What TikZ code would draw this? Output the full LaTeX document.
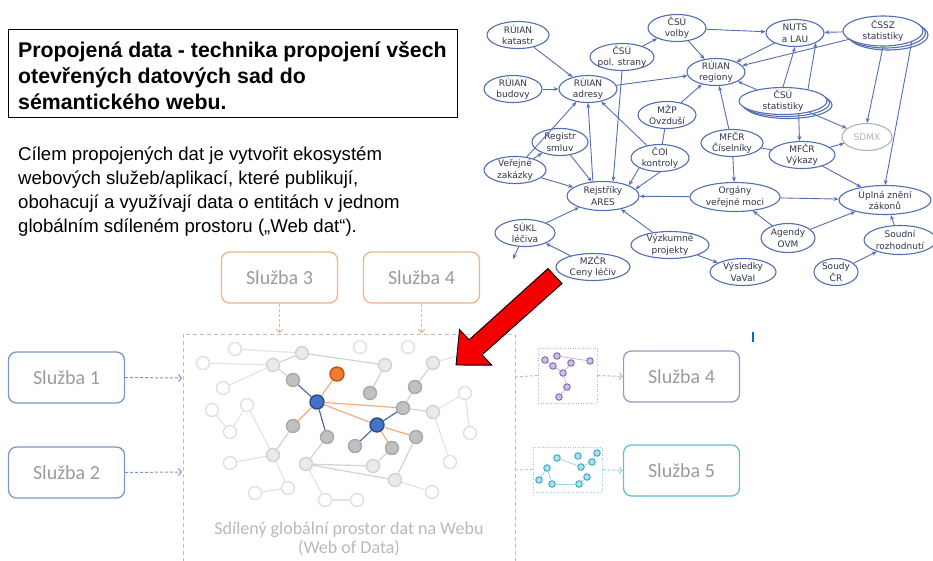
\documentclass[tikz,border=0pt]{standalone}
\usepackage{fontspec}
\setmainfont{Liberation Sans}
\newfontfamily\calib{Carlito}
\newfontfamily\gfont{DejaVu Sans}
\usetikzlibrary{shapes.geometric,arrows.meta,shadows}
\definecolor{gblue}{RGB}{84,110,178}
\definecolor{gtext}{RGB}{50,52,75}
\definecolor{sdmxc}{RGB}{178,178,184}
\definecolor{borange}{RGB}{244,177,131}
\definecolor{bblue}{RGB}{124,150,200}
\definecolor{bpurple}{RGB}{165,145,195}
\definecolor{bteal}{RGB}{95,192,208}
\definecolor{stxt}{RGB}{155,155,155}
\definecolor{captc}{RGB}{185,185,185}
\definecolor{rectc}{RGB}{190,190,190}
\definecolor{arrred}{RGB}{245,0,0}
\definecolor{fedge}{RGB}{228,228,228}
\definecolor{medge}{RGB}{210,210,210}
\definecolor{nfaint}{RGB}{224,224,224}
\definecolor{nlightf}{RGB}{234,234,234}
\definecolor{nlightd}{RGB}{210,210,210}
\definecolor{nmedf}{RGB}{192,192,192}
\definecolor{nmedd}{RGB}{168,168,168}
\definecolor{nbluef}{RGB}{68,114,196}
\definecolor{nblued}{RGB}{40,75,140}
\definecolor{norgf}{RGB}{237,125,49}
\definecolor{norgd}{RGB}{190,85,20}
\definecolor{eblue}{RGB}{80,105,160}
\definecolor{eorg}{RGB}{242,170,125}
\definecolor{ppf}{RGB}{205,188,228}
\definecolor{ppd}{RGB}{140,110,180}
\definecolor{tpf}{RGB}{170,225,238}
\definecolor{tpd}{RGB}{70,170,200}
\begin{document}
\begin{tikzpicture}[x=1pt,y=-1pt,
  gn/.style 2 args={ellipse, draw=gblue, line width=1.1pt, fill=white,
    minimum width=#1pt, minimum height=#2pt, inner xsep=-12pt, inner ysep=-6pt,
    font=\gfont\fontsize{9}{11.5}\selectfont, text=gtext, align=center},
  ge/.style={draw=gblue, line width=0.9pt, -{Stealth[length=5pt,width=4pt]}},
  gl/.style={draw=gblue, line width=0.9pt},
  sbox/.style={draw, rounded corners=8pt, line width=1.3pt, minimum width=116pt,
    minimum height=51pt, fill=white, font=\calib\fontsize{20}{24}\selectfont, text=stxt},
  darr/.style={dash pattern=on 3pt off 2pt, line width=1pt, -{Straight Barb[length=3pt,width=7pt]}},
  fn/.style={circle, minimum size=13pt, inner sep=0pt, line width=1.4pt, draw=nfaint, fill=white},
  ln/.style={circle, minimum size=13pt, inner sep=0pt, line width=1.4pt, draw=nlightd, fill=nlightf},
  mn/.style={circle, minimum size=13pt, inner sep=0pt, line width=1.4pt, draw=nmedd, fill=nmedf},
  bn/.style={circle, minimum size=14pt, inner sep=0pt, line width=1.4pt, draw=nblued, fill=nbluef},
  on/.style={circle, minimum size=14pt, inner sep=0pt, line width=1.4pt, draw=norgd, fill=norgf},
  fe/.style={draw=fedge, line width=1.2pt},
  me/.style={draw=medge, line width=1.2pt},
  be/.style={draw=eblue, line width=1.2pt},
  oe/.style={draw=eorg, line width=1.2pt},
  pn/.style={circle, minimum size=6.5pt, inner sep=0pt, line width=1pt, draw=ppd, fill=ppf},
  tn/.style={circle, minimum size=6.5pt, inner sep=0pt, line width=1pt, draw=tpd, fill=tpf},
  pe/.style={draw=ppd!50, line width=0.8pt},
  te/.style={draw=tpd!50, line width=0.8pt}
]
\useasboundingbox (0,0) rectangle (933,560);

% ---------- title box and paragraph ----------
\node[draw=black, line width=1.2pt, minimum width=449pt, minimum height=88pt, anchor=north west, inner sep=0pt] (tbox) at (8,29) {};
\begin{scope}[every node/.style={anchor=base west, inner sep=0pt, font=\bfseries\fontsize{21.3}{26}\selectfont}]
\node (t1) at (18,57) {Propojená data - technika propojení všech};
\node (t2) at (18,83) {otevřených datových sad do};
\node (t3) at (18,109) {sémantického webu.};
\end{scope}
\begin{scope}[every node/.style={anchor=base west, inner sep=0pt, font=\fontsize{18.6}{24}\selectfont}]
\node (p1) at (18,160) {Cílem propojených dat je vytvořit ekosystém};
\node (p2) at (18,184) {webových služeb/aplikací, které publikují,};
\node (p3) at (18,208) {obohacují a využívají data o entitách v jednom};
\node (p4) at (18,232) {globálním sdíleném prostoru („Web dat“).};
\end{scope}

% ---------- top-right graph ----------
\node[gn={62}{27}] (kat) at (518,35) {RÚIAN\\katastr};
\node[gn={58}{27}] (bud) at (513,89) {RÚIAN\\budovy};
\node[gn={58}{27}] (adr) at (588,89) {RÚIAN\\adresy};
\node[gn={64}{27}] (pol) at (622,57) {ČSÚ\\pol. strany};
\node[gn={58}{27}] (vol) at (677,28) {ČSÚ\\volby};
\node[gn={58}{27}] (nuts) at (795,33) {NUTS\\a LAU};
\node[gn={80}{30}, double copy shadow={shadow xshift=2.5pt,shadow yshift=-2pt}] (cssz) at (883,31) {ČSSZ\\statistiky};
\node[gn={58}{27}] (reg) at (716,72) {RÚIAN\\regiony};
\node[gn={88}{27}, double copy shadow={shadow xshift=2.5pt,shadow yshift=-2pt}] (csust) at (783,101) {ČSÚ\\statistiky};
\node[gn={58}{27}] (mzp) at (667,115) {MŽP\\Ovzduší};
\node[gn={58}{27}] (coi) at (660,158) {ČOI\\kontroly};
\node[gn={56}{27}] (rs) at (560,142) {Registr\\smluv};
\node[gn={62}{27}] (vz) at (515,170) {Veřejné\\zakázky};
\node[gn={72}{29}] (ares) at (603,196) {Rejstříky\\ARES};
\node[gn={60}{27}] (sukl) at (525,233) {SÚKL\\léčiva};
\node[gn={74}{27}] (mzcr) at (593,267) {MZČR\\Ceny léčiv};
\node[gn={78}{27}] (vyz) at (670,245) {Výzkumné\\projekty};
\node[gn={66}{27}] (vys) at (743,272) {Výsledky\\VaVaI};
\node[gn={62}{27}] (cis) at (732,143) {MFČR\\Číselníky};
\node[gn={66}{27}] (vyk) at (802,155) {MFČR\\Výkazy};
\node[gn={50}{27}, draw=sdmxc, text=sdmxc] (sdmx) at (867,137) {SDMX};
\node[gn={90}{29}] (org) at (735,197) {Orgány\\veřejné moci};
\node[gn={92}{29}] (upl) at (885,200) {Úplná znění\\zákonů};
\node[gn={54}{29}] (agd) at (788,238) {Agendy\\OVM};
\node[gn={72}{29}] (soudni) at (900,240) {Soudní\\rozhodnutí};
\node[gn={44}{27}] (soudy) at (836,272) {Soudy\\ČR};
\coordinate (suklend) at (513,259);

\draw[ge] (kat) -- (adr);
\draw[ge] (bud) -- (adr);
\draw[ge] (adr) -- (reg);
\draw[ge] (vz) -- (adr);
\draw[ge] (vz) -- (rs);
\draw[ge] (vz) -- (ares);
\draw[ge] (rs) -- (ares);
\draw[ge] (ares.125) -- (adr.south);
\draw[ge] (pol.south) -- (ares.55);
\draw[ge] (coi) -- (adr);
\draw[ge] (coi.south west) -- (ares.north east);
\draw[ge] (coi.south) -- (ares.12);
\draw[gl] (mzp) -- (coi);
\draw[ge] (mzp) -- (reg);
\draw[ge] (pol) -- (vol);
\draw[ge] (vol) -- (reg);
\draw[ge] (vol) -- (nuts);
\draw[ge] (nuts) -- (reg);
\draw[ge] (cssz) -- (nuts);
\draw[ge] (cssz) -- (reg);
\draw[ge] (csust.north) -- (nuts.south);
\draw[ge] (csust.25) -- (nuts.south east);
\draw[ge] (csust) -- (reg);
\draw[ge] (csust) -- (sdmx);
\draw[ge] (cssz.south) -- (sdmx.north);
\draw[ge] (cssz.south east) -- (upl.north);
\draw[ge] (csust.320) -- (vyk.100);
\draw[ge] (vyk) -- (sdmx);
\draw[ge] (vyk) -- (upl);
\draw[gl] (cis) -- (vyk);
\draw[ge] (cis) -- (reg);
\draw[ge] (cis) -- (org);
\draw[ge] (org) -- (ares);
\draw[ge] (org) -- (upl);
\draw[ge] (agd) -- (org);
\draw[ge] (agd) -- (upl);
\draw[ge] (soudni) -- (upl);
\draw[ge] (soudy) -- (soudni);
\draw[ge] (vyz) -- (ares);
\draw[ge] (vyz) -- (vys);
\draw[ge] (sukl) -- (ares);
\draw[ge] (mzcr) -- (sukl);
\draw[ge] (sukl) -- (suklend);

% small blue mark
\draw[draw={rgb,255:red,0;green,112;blue,192}, line width=1.2pt] (753,332) -- (753,342);

% ---------- bottom: shared data space ----------
\draw[draw=rectc, line width=1pt, dash pattern=on 4pt off 3pt] (183,562) -- (183,334) -- (515,334) -- (515,562);
\node[font=\calib\fontsize{18}{19}\selectfont, text=captc, anchor=base, inner sep=0pt] (cap1) at (349,534) {Sdílený globální prostor dat na Webu};
\node[font=\calib\fontsize{18}{19}\selectfont, text=captc, anchor=base, inner sep=0pt] (cap2) at (349,553) {(Web of Data)};

% services
\node[sbox, draw=borange] (s3) at (279.5,277.5) {Služba 3};
\node[sbox, draw=borange] (s4t) at (421.5,277.5) {Služba 4};
\node[sbox, draw=bblue] (s1) at (66.5,377.5) {Služba 1};
\node[sbox, draw=bblue] (s2) at (66.5,472.5) {Služba 2};
\node[sbox, draw=bpurple] (s4r) at (681.5,376.5) {Služba 4};
\node[sbox, draw=bteal] (s5) at (681.5,470.5) {Služba 5};

\coordinate (r3) at (279.5,333);
\coordinate (r4) at (421.5,333);
\coordinate (r1) at (182,378);
\coordinate (r2) at (182,472);
\coordinate (rr1) at (515,377);
\coordinate (rr2) at (515,470);

\node[draw=ppd!55, dash pattern=on 1pt off 1.5pt, line width=0.8pt, minimum width=59pt, minimum height=55pt, inner sep=0pt] (pbox) at (567.5,375.5) {};
\node[draw=tpd!55, dash pattern=on 1pt off 1.5pt, line width=0.8pt, minimum width=69pt, minimum height=45pt, inner sep=0pt] (tbx) at (567.5,469.5) {};

\draw[darr, draw=borange] (s3.south) -- (r3);
\draw[darr, draw=borange] (s4t.south) -- (r4);
\draw[darr, draw=bblue] (s1.east) -- (r1);
\draw[darr, draw=bblue] (s2.east) -- (r2);
\draw[dash pattern=on 3pt off 2pt, line width=1pt, draw=rectc] (rr1) -- (pbox.west);
\draw[dash pattern=on 3pt off 2pt, line width=1pt, draw=bteal!60] (rr2) -- (tbx.west);
\draw[darr, draw=bpurple!70] (pbox.east) -- (s4r.west);
\draw[darr, draw=bteal!70] (tbx.east) -- (s5.west);

% mini purple graph
\node[pn] (pa) at (545,360) {};
\node[pn] (pb) at (557,356) {};
\node[pn] (pc) at (553,366) {};
\node[pn] (pd) at (571,363) {};
\node[pn] (pp) at (590,361) {};
\node[pn] (pf) at (563,373) {};
\node[pn] (pg) at (567,387) {};
\node[pn] (ph) at (559,397) {};
\draw[pe] (pb) -- (pp);
\draw[pe] (pa) -- (pc);
\draw[pe] (pc) -- (pf);
\draw[pe] (pd) -- (pf);
\draw[pe] (pf) -- (pg);
\draw[pe] (pg) -- (ph);

% mini teal graph
\node[tn] (ta) at (557,458) {};
\node[tn] (tb) at (578,456) {};
\node[tn] (tc) at (597,453) {};
\node[tn] (td) at (592,462) {};
\node[tn] (tq) at (547,468) {};
\node[tn] (tf) at (581,467) {};
\node[tn] (tg) at (539,480) {};
\node[tn] (th) at (587,477) {};
\node[tn] (ti) at (552,484) {};
\node[tn] (tj) at (579,484) {};
\draw[te] (ta) -- (tf);
\draw[te] (tc) -- (td);
\draw[te] (td) -- (tf);
\draw[te] (tq) -- (tg);
\draw[te] (tq) -- (ti);
\draw[te] (ti) -- (tj);
\draw[te] (th) -- (tj);

% big web graph nodes
\node[fn] (f1) at (235,349) {};
\node[fn] (f2) at (203,363) {};
\node[fn] (f3) at (223,388) {};
\node[fn] (f4) at (212,410) {};
\node[fn] (f5) at (247,405) {};
\node[fn] (f6) at (230,432) {};
\node[fn] (f7) at (230,463) {};
\node[fn] (f8) at (255,493) {};
\node[fn] (f9) at (288,488) {};
\node[fn] (f10) at (325,500) {};
\node[fn] (f11) at (357,500) {};
\node[fn] (f12) at (360,347) {};
\node[fn] (f13) at (408,347) {};
\node[fn] (f14) at (432,492) {};
\node[fn] (f15) at (450,462) {};
\node[fn] (f16) at (470,433) {};
\node[fn] (f17) at (465,393) {};
\node[ln] (l1) at (273,365) {};
\node[ln] (l2) at (302,353) {};
\node[ln] (l3) at (385,365) {};
\node[ln] (l4) at (433,363) {};
\node[ln] (l5) at (433,412) {};
\node[ln] (l6) at (306,464) {};
\node[ln] (l7) at (373,466) {};
\node[ln] (l8) at (395,480) {};
\node[ln] (l9) at (273,455) {};
\node[mn] (m1) at (293,380) {};
\node[mn] (m2) at (370,393) {};
\node[mn] (m3) at (415,387) {};
\node[mn] (m4) at (403,408) {};
\node[mn] (m5) at (293,426) {};
\node[mn] (m6) at (327,437) {};
\node[mn] (m7) at (355,446) {};
\node[mn] (m8) at (392,448) {};
\node[mn] (m9) at (416,437) {};
\node[bn] (b1) at (317,402) {};
\node[bn] (b2) at (377,425) {};
\node[on] (o1) at (337,374) {};
\coordinate (lend) at (460,355);

% faint edges
\draw[fe] (f1) -- (l2);
\draw[fe] (f2) -- (l1);
\draw[fe] (f3) -- (l1);
\draw[fe] (f4) -- (f6);
\draw[fe] (f5) -- (f6);
\draw[fe] (f5) -- (l9);
\draw[fe] (f7) -- (l9);
\draw[fe] (f8) -- (f9);
\draw[fe] (l9) -- (f9);
\draw[fe] (l6) -- (f10);
\draw[fe] (f10) -- (f11);
\draw[fe] (l8) -- (f14);
\draw[fe] (l5) -- (f15);
\draw[fe] (f17) -- (f16);
\draw[fe] (l5) -- (f17);
\draw[fe] (l4) -- (lend);
% medium edges
\draw[me] (l1) -- (m1);
\draw[me] (l1) -- (l2);
\draw[me] (l2) -- (l3);
\draw[me] (l3) -- (m2);
\draw[me] (l4) -- (m3);
\draw[me] (m3) -- (m4);
\draw[me] (m4) -- (l5);
\draw[me] (l9) -- (m5);
\draw[me] (l6) -- (m6);
\draw[me] (l6) -- (l7);
\draw[me] (l6) -- (l8);
\draw[me] (l8) -- (m9);
\draw[me] (l7) -- (m8);
% blue and orange edges
\draw[be] (b1) -- (m1);
\draw[be] (b1) -- (m6);
\draw[be] (b2) -- (m4);
\draw[be] (b2) -- (m7);
\draw[oe] (b1) -- (o1);
\draw[oe] (b1) -- (m5);
\draw[oe] (b1) -- (m4);
\draw[oe] (b1) -- (b2);
\draw[oe] (b2) -- (m8);
\draw[oe] (b2) -- (m9);

% ---------- red arrow ----------
\draw[fill=arrred, draw=black, line width=0.9pt, line join=miter]
  (548,268.5) -- (469.1,339.8) -- (459.5,329.5) -- (456,365) -- (491.8,365.2) -- (482.1,354.8) -- (562,283.5) -- cycle;
\end{tikzpicture}
\end{document}
